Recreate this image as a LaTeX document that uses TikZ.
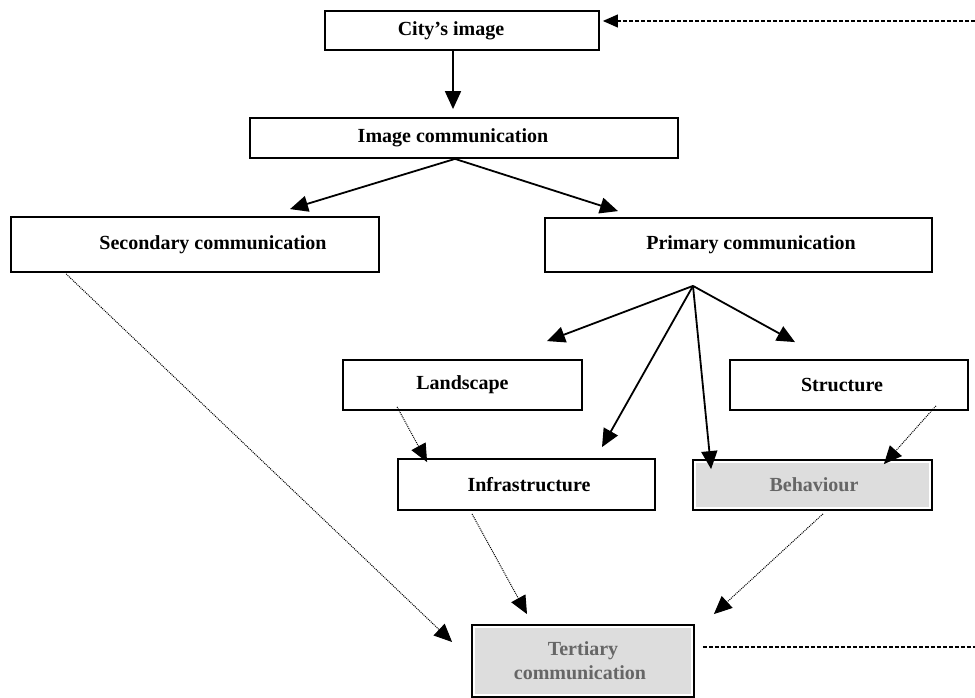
\documentclass[tikz,border=0pt]{standalone}
\usepackage{fontspec}
\setmainfont{Liberation Serif}
\usetikzlibrary{arrows.meta,calc}
\definecolor{boxgray}{HTML}{DDDDDD}
\definecolor{txtgray}{HTML}{666666}
\begin{document}
\begin{tikzpicture}[x=1pt,y=-1pt,
 box/.style={draw=black, line width=1.8pt, fill=white, inner sep=0pt,
   font=\fontsize{20}{24}\selectfont\bfseries, align=center},
 graybox/.style={box, text=txtgray,
   path picture={\fill[boxgray] ([shift={(3pt,-3pt)}]path picture bounding box.north west)
     rectangle ([shift={(-3pt,3pt)}]path picture bounding box.south east);}},
 solidarrow/.style={line width=1.8pt, -{Triangle[length=18pt,width=16pt]}},
 dotarrow/.style={line width=1pt, dash pattern=on 1pt off 1pt, -{Triangle[length=18pt,width=16pt]}},
 dashline/.style={line width=1.1pt, dash pattern=on 4pt off 2pt},
]
\useasboundingbox (0,0) rectangle (975,698);

% boxes
\node[box, minimum width=274pt, minimum height=39pt] (city) at (462,30.5) {City's image\hspace*{22pt}};
\node[box, minimum width=428pt, minimum height=40pt] (img) at (464,138) {Image communication\hspace*{22pt}};
\node[box, minimum width=368pt, minimum height=55pt] (sec) at (195,244.5) {\hspace*{36pt}Secondary communication};
\node[box, minimum width=387pt, minimum height=54pt] (prim) at (738.5,245) {\hspace*{25pt}Primary communication};
\node[box, minimum width=239pt, minimum height=50pt] (land) at (462.5,385) {Landscape};
\node[box, minimum width=238pt, minimum height=50pt] (struc) at (849,385) {Structure\hspace*{14pt}};
\node[box, minimum width=257pt, minimum height=51pt] (infra) at (526.5,484.5) {\hspace*{5pt}Infrastructure};
\node[graybox, minimum width=239pt, minimum height=50pt] (behav) at (812.5,485) {\hspace*{3pt}Behaviour};
\node[graybox, minimum width=222pt, minimum height=72pt] (tert) at (583,661) {Tertiary\\communication\hspace*{6pt}};

% helper points
\coordinate (imgapex) at ($(img.south)+(-9,0)$);
\coordinate (primapex) at ($(prim.south)+(-45.5,13)$);
\coordinate (topfree) at (975,21);
\coordinate (botfree) at (975,647);

% solid arrows
\draw[solidarrow] ($(city.south)+(-9,0)$) -- ($(img.north)+(-11,-8)$);
\draw[solidarrow] (imgapex) -- ($(sec.north)+(95,-7)$);
\draw[solidarrow] (imgapex) -- ($(prim.north)+(-120.5,-6)$);
\draw[solidarrow] (primapex) -- ($(land.north)+(84.5,-18)$);
\draw[solidarrow] (primapex) -- ($(struc.north)+(-54,-17)$);
\draw[solidarrow] (primapex) -- ($(infra.north)+(75.5,-11)$);
\draw[solidarrow] (primapex) -- ($(behav.north west)+(19,10)$);

% dotted arrows
\draw[dotarrow] ($(sec.south west)+(56,1)$) -- ($(tert.west)+(-19,-19)$);
\draw[dotarrow] ($(land.south west)+(55,-4)$) -- ($(infra.north west)+(30,4)$);
\draw[dotarrow] ($(struc.south east)+(-33,-5)$) -- ($(behav.north east)+(-49,5)$);
\draw[dotarrow] ($(infra.south)+(-54.5,3)$) -- ($(tert.north)+(-56,-10)$);
\draw[dotarrow] ($(behav.south)+(10.5,3)$) -- ($(tert.north east)+(19,-10)$);

% dashed lines
\draw[dashline, -{Triangle[length=15pt,width=13pt]}] (topfree) -- ($(city.east)+(3,-9.5)$);
\draw[dashline] ($(tert.east)+(8,-14)$) -- (botfree);
\end{tikzpicture}
\end{document}
